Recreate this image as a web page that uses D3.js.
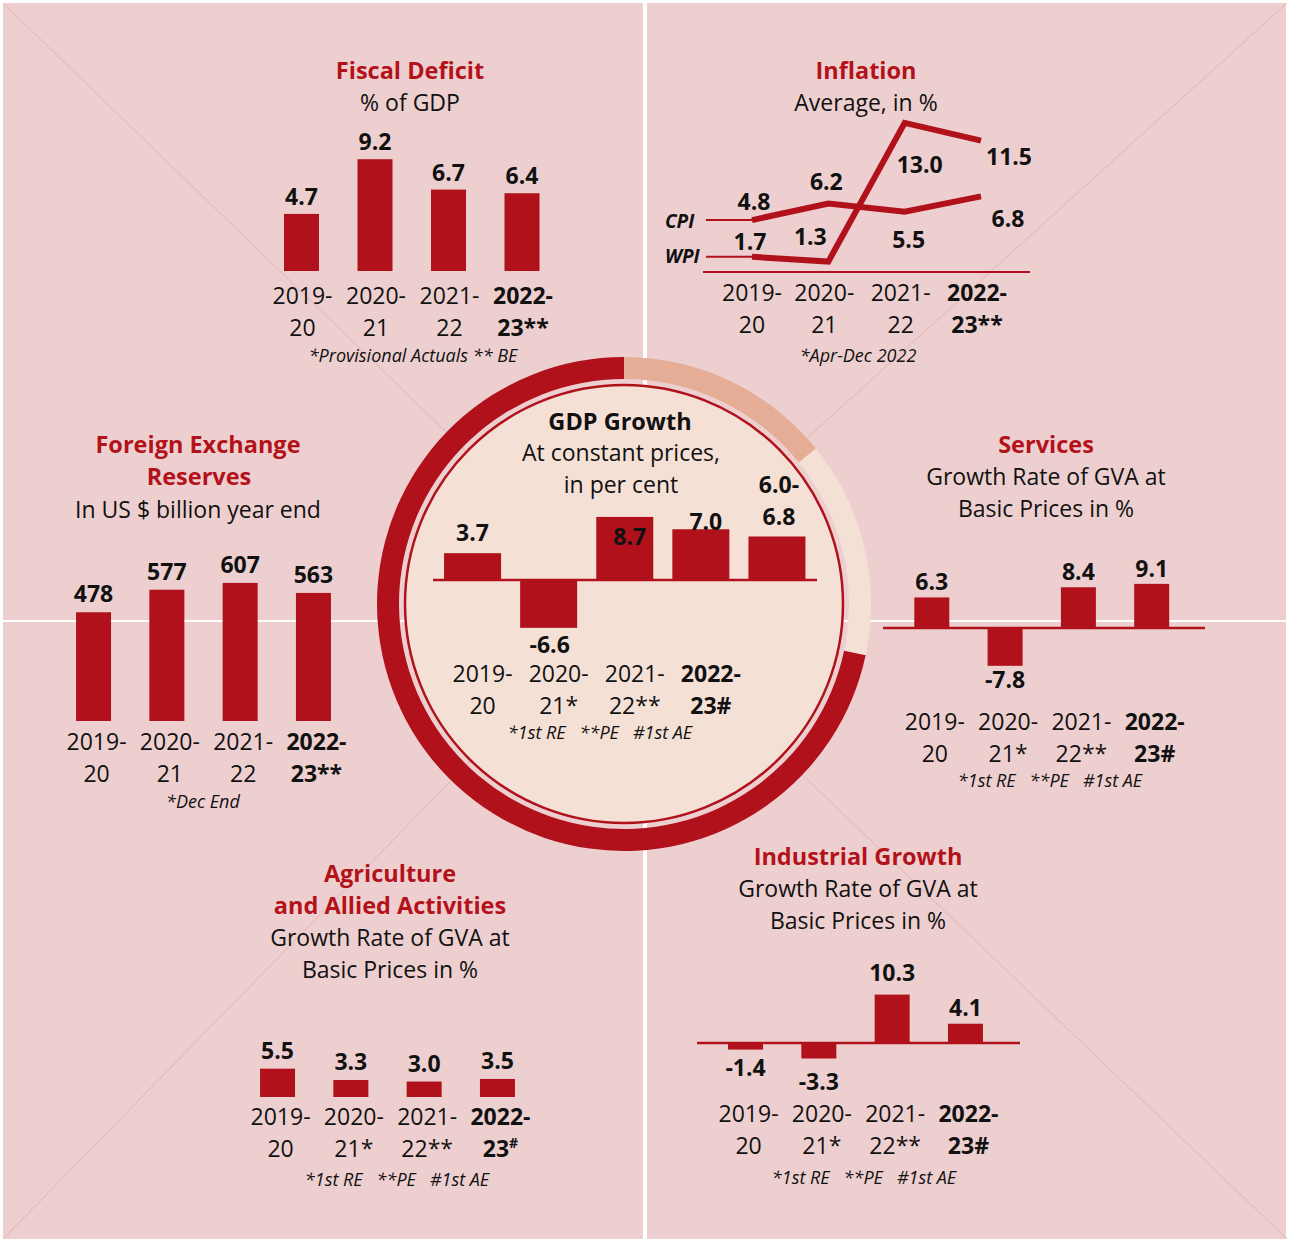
<!DOCTYPE html>
<html>
<head>
<meta charset="utf-8">
<script src="https://cdn.jsdelivr.net/npm/d3@7"></script>
<style>
body { margin: 0; background: #fff; }
text { font-family: "Open Sans", sans-serif; white-space: pre; }
</style>
</head>
<body>
<svg id="chart" width="1290" height="1239"></svg>
<script>
// ---- data ----
var yearsTop = ["2019-", "2020-", "2021-", "2022-"];
var yearsPlain = ["20", "21", "22", "23**"];
var yearsRevised = ["20", "21*", "22**", "23#"];

var fiscalValues = [4.7, 9.2, 6.7, 6.4];
var cpiValues = [4.8, 6.2, 5.5, 6.8];
var wpiValues = [1.7, 1.3, 13.0, 11.5];
var gdpValues = [3.7, -6.6, 8.7, 7.0, 6.0];
var gdpLabels = ["3.7", "-6.6", "8.7", "7.0", "6.0-|6.8"];
var forexValues = [478, 577, 607, 563];
var servicesValues = [6.3, -7.8, 8.4, 9.1];
var industryValues = [-1.4, -3.3, 10.3, 4.1];
var agriValues = [5.5, 3.3, 3.0, 3.5];

var RED = "#b0111a";
var TITLE_RED = "#b3121b";
var PINK = "#eecfd0";

// plain hyphen for negatives, as in the print
var fmt1 = function(v) { return v.toFixed(1); };
var fmt0 = function(v) { return v.toFixed(0); };

var svg = d3.select("#chart");

// ---- background panels ----
svg.append("rect").attr("width", 1290).attr("height", 1239).attr("fill", "#fff");
svg.append("rect").attr("x", 3).attr("y", 3).attr("width", 640).attr("height", 1236).attr("fill", PINK);
svg.append("rect").attr("x", 647).attr("y", 3).attr("width", 639).attr("height", 1236).attr("fill", PINK);

var cx = 624, cy = 604;
// faint diagonals from centre to corners
[[3, 3], [1287, 3], [3, 1239], [1287, 1239]].forEach(function(c) {
  svg.append("line")
    .attr("x1", cx).attr("y1", cy).attr("x2", c[0]).attr("y2", c[1])
    .attr("stroke", "#e4b4ac").attr("stroke-width", 1);
});
svg.append("line").attr("x1", 0).attr("x2", 1290).attr("y1", 621).attr("y2", 621)
  .attr("stroke", "#fff").attr("stroke-width", 2);

// ---- centre ring ----
var ring = d3.arc().innerRadius(225).outerRadius(247);
var ringG = svg.append("g").attr("transform", "translate(" + cx + "," + cy + ")");
var segs = [
  { a0: 0, a1: 0.89, c: "#e5ad95" },
  { a0: 0.89, a1: 1.78, c: "#f5e0d6" },
  { a0: 1.78, a1: 2 * Math.PI, c: RED }
];
ringG.selectAll("path.seg").data(segs).enter().append("path")
  .attr("class", "seg")
  .attr("d", function(d) { return ring({ startAngle: d.a0, endAngle: d.a1 }); })
  .attr("fill", function(d) { return d.c; });
ringG.append("circle").attr("r", 219).attr("fill", "#f5e0d6")
  .attr("stroke", RED).attr("stroke-width", 2.5);

// ---- helpers ----
function addText(g, x, y, str, opts) {
  opts = opts || {};
  return g.append("text")
    .attr("x", x).attr("y", y)
    .attr("text-anchor", opts.anchor || "middle")
    .attr("font-size", opts.size || 23)
    .attr("font-weight", opts.bold ? 700 : 400)
    .attr("font-style", opts.italic ? "italic" : "normal")
    .attr("fill", opts.color || "#111")
    .text(str);
}

function titles(lines) {
  lines.forEach(function(l) {
    var heavy = l[3] === "t" || l[3] === "b";
    addText(svg, l[0], l[1], l[2], { bold: heavy, color: l[3] === "t" ? TITLE_RED : "#111", size: heavy ? 23.5 : 23 });
  });
}

function note(g, x, y, str) {
  addText(g, x, y, str, { italic: true, size: 18 });
}

function categoryLabels(g, xs, line2, y, sup) {
  yearsTop.forEach(function(t, i) {
    var last = i === yearsTop.length - 1;
    addText(g, xs(i), y, t, { bold: last });
    var s = line2[i];
    var t2 = addText(g, xs(i), y + 32, sup && last ? s.replace("#", "") : s, { bold: last });
    if (sup && last) {
      t2.append("tspan").attr("baseline-shift", "super").attr("font-size", 14).text("#");
    }
  });
}

function barChart(o) {
  var g = svg.append("g");
  var n = o.values.length;
  var pad = 1 - o.barW / o.step;
  var x = d3.scaleBand().domain(d3.range(n))
    .range([o.cx - o.step * n / 2, o.cx + o.step * n / 2])
    .paddingInner(pad).paddingOuter(pad / 2);
  var maxV = d3.max(o.values);
  var y = d3.scaleLinear().domain([0, maxV]).range([o.base, o.base - maxV * o.ppu]);

  if (o.axis) {
    g.append("line").attr("x1", o.axis[0]).attr("x2", o.axis[1])
      .attr("y1", y(0)).attr("y2", y(0))
      .attr("stroke", RED).attr("stroke-width", 2.5);
  }
  g.selectAll("rect.bar").data(o.values).enter().append("rect")
    .attr("class", "bar")
    .attr("x", function(d, i) { return x(i); })
    .attr("y", function(d) { return Math.min(y(d), y(0)); })
    .attr("width", x.bandwidth())
    .attr("height", function(d) { return Math.abs(y(d) - y(0)); })
    .attr("fill", RED);

  o.values.forEach(function(v, i) {
    var lab = o.labels ? o.labels[i] : o.fmt(v);
    var lx = x(i) + x.bandwidth() / 2 + (o.labDx ? o.labDx[i] : 0);
    var ly = y(v) + (o.labDy ? o.labDy[i] : (v >= 0 ? o.posGap : o.negGap));
    var parts = lab.split("|");
    parts.forEach(function(p, k) {
      addText(g, lx, ly - (parts.length - 1 - k) * 32, p, { bold: true });
    });
  });

  categoryLabels(g, function(i) { return x(i) + x.bandwidth() / 2 + o.catDx; }, o.line2, o.catY, o.sup);
  note(g, o.note[0], o.note[1], o.note[2]);
}

// ---- Fiscal Deficit ----
titles([[410, 79, "Fiscal Deficit", "t"], [410, 111, "% of GDP"]]);
barChart({
  values: fiscalValues, fmt: fmt1,
  cx: 411.75, step: 73.5, barW: 35, base: 271, ppu: 12.15,
  posGap: -9, negGap: 25, catDx: 1, catY: 304, line2: yearsPlain,
  note: [413, 362, "*Provisional Actuals ** BE"]
});

// ---- Foreign Exchange Reserves ----
titles([[198, 453, "Foreign Exchange", "t"], [199, 485, "Reserves", "t"], [198, 518, "In US $ billion year end"]]);
barChart({
  values: forexValues, fmt: fmt0,
  cx: 203.5, step: 73.3, barW: 35, base: 721, ppu: 0.2275,
  posGap: -10, negGap: 25, catDx: 3, catY: 750, line2: yearsPlain,
  note: [203, 808, "*Dec End"]
});

// ---- Services ----
titles([[1046, 453, "Services", "t"], [1046, 485, "Growth Rate of GVA at"], [1046, 517, "Basic Prices in %"]]);
barChart({
  values: servicesValues, fmt: fmt1,
  cx: 1041.75, step: 73.3, barW: 35, base: 628, ppu: 4.85,
  posGap: -7, negGap: 22, catDx: 3, catY: 730, line2: yearsRevised,
  axis: [883, 1205],
  note: [1050, 787, "*1st RE   **PE   #1st AE"]
});

// ---- Industrial Growth ----
titles([[858, 865, "Industrial Growth", "t"], [858, 897, "Growth Rate of GVA at"], [858, 929, "Basic Prices in %"]]);
barChart({
  values: industryValues, fmt: fmt1,
  cx: 855.5, step: 73.3, barW: 35, base: 1043, ppu: 4.7,
  labDy: [26, 31, -14, -8], catDx: 3, catY: 1122, line2: yearsRevised,
  axis: [697, 1020],
  note: [864, 1184, "*1st RE   **PE   #1st AE"]
});

// ---- Agriculture ----
titles([[390, 882, "Agriculture", "t"], [390, 914, "and Allied Activities", "t"], [390, 946, "Growth Rate of GVA at"], [390, 978, "Basic Prices in %"]]);
barChart({
  values: agriValues, fmt: fmt1,
  cx: 387.5, step: 73.3, barW: 35, base: 1097, ppu: 5.15,
  posGap: -10, negGap: 25, catDx: 3, catY: 1125, line2: yearsRevised, sup: true,
  note: [397, 1186, "*1st RE   **PE   #1st AE"]
});

// ---- GDP Growth (centre) ----
titles([[620, 430, "GDP Growth", "b"], [621, 461, "At constant prices,"], [621, 493, "in per cent"]]);
barChart({
  values: gdpValues, labels: gdpLabels,
  cx: 624.75, step: 76.1, barW: 57, base: 580, ppu: 7.25,
  labDx: [0, 1, 5, 5, 2], labDy: [-12, 25, 28, 1, -12],
  catDx: 10, catY: 682, line2: yearsRevised,
  axis: [433, 817],
  note: [600, 739, "*1st RE   **PE   #1st AE"]
});

// ---- Inflation line chart ----
titles([[866, 79, "Inflation", "t"], [866, 111, "Average, in %"]]);
(function() {
  var g = svg.append("g");
  var x = d3.scalePoint().domain(d3.range(4)).range([752, 981]);
  var y = d3.scaleLinear().domain([0, 13]).range([277, 277 - 13 * 11.86]);
  var line = d3.line().x(function(d, i) { return x(i); }).y(function(d) { return y(d); });

  g.append("line").attr("x1", 703).attr("x2", 1030).attr("y1", 272).attr("y2", 272)
    .attr("stroke", RED).attr("stroke-width", 2);

  [[cpiValues, "CPI", 228], [wpiValues, "WPI", 263]].forEach(function(s) {
    g.append("path").datum(s[0]).attr("d", line)
      .attr("fill", "none").attr("stroke", RED).attr("stroke-width", 6)
      .attr("stroke-linejoin", "miter");
    g.append("line").attr("x1", 706).attr("x2", x(0))
      .attr("y1", y(s[0][0])).attr("y2", y(s[0][0]))
      .attr("stroke", RED).attr("stroke-width", 2);
    addText(g, 665, s[2], s[1], { anchor: "start", bold: true, italic: true, size: 19 });
  });

  var cpiDx = [2, -2, 4, 27], cpiDy = [-10, -13.5, 36, 31];
  var wpiDx = [-2, -18, 15, 28], wpiDy = [-7, -16.6, 50, 24];
  cpiValues.forEach(function(v, i) {
    addText(g, x(i) + cpiDx[i], y(v) + cpiDy[i], fmt1(v), { bold: true });
  });
  wpiValues.forEach(function(v, i) {
    addText(g, x(i) + wpiDx[i], y(v) + wpiDy[i], fmt1(v), { bold: true });
  });

  categoryLabels(g, function(i) { return x(i) - (i ? 4 : 0); }, yearsPlain, 301, false);
  note(g, 858, 362, "*Apr-Dec 2022");
})();
</script>
</body>
</html>
